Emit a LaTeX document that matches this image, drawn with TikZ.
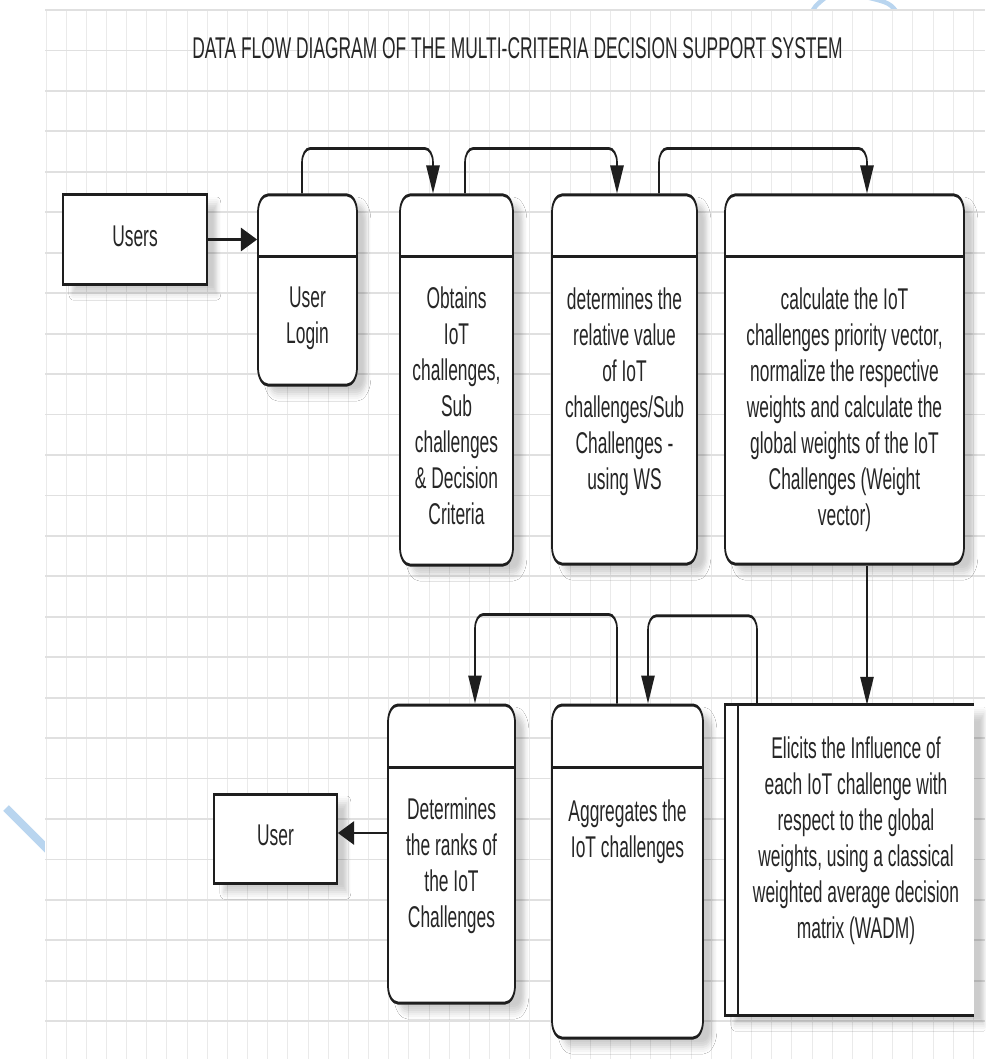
\documentclass[tikz,border=0pt]{standalone}
\usepackage{fontspec}
\setmainfont{Liberation Sans}
\usetikzlibrary{arrows.meta,calc,shadows.blur}

\definecolor{ink}{HTML}{1E1E1E}
\definecolor{txt}{HTML}{262626}
\definecolor{gridh}{HTML}{E0E0E0}
\definecolor{gridv}{HTML}{EAEAEA}
\definecolor{markblue}{HTML}{B9D5EF}

\newcommand{\dfdfont}{\fontsize{30}{36}\selectfont}

\tikzset{
  softshadow/.style={blur shadow={shadow xshift=17pt, shadow yshift=-9pt,
      shadow opacity=20, shadow blur radius=7pt}},
  procbox/.style 2 args={draw=ink, line width=3pt, fill=white, rounded corners=17pt,
      minimum width=#1*1.72414pt, minimum height=#2*1pt, inner sep=0pt, softshadow},
  entitybox/.style 2 args={draw=ink, line width=3pt, fill=white,
      minimum width=#1*1.72414pt, minimum height=#2*1pt, inner sep=0pt,
      font=\dfdfont, text=txt, text depth=6pt, softshadow},
  storebox/.style 2 args={fill=white, minimum width=#1*1.72414pt,
      minimum height=#2*1pt, inner sep=0pt, softshadow},
  storeline/.style={draw=ink, line width=3pt},
  proctext/.style={inner sep=0pt, anchor=north, align=center, font=\dfdfont, text=txt},
  divider/.style={draw=ink, line width=3pt},
  flow/.style={draw=ink, line width=2.8pt, rounded corners=14pt,
      -{Triangle[length=28pt,width=23pt]}},
}

\begin{document}
\begin{tikzpicture}[x=1pt,y=-1pt]
\useasboundingbox (0,0) rectangle (985,1059);

% faint blue pen strokes peeking out from under the sheet
\draw[markblue, line width=8pt] (6,808) -- (52,854);
\draw[markblue, line width=4.5pt] (811,14) .. controls (815,6) .. (826,-3);
\draw[markblue, line width=4.5pt] (866,-3) .. controls (890,3) .. (899,15);

% grid sheet
\fill[white] (45,10) rectangle (985,1059);
\foreach \k in {0,...,46}
  \draw[gridv, line width=1pt] ({46+20.16*\k},10) -- ({46+20.16*\k},1059);
\foreach \k in {0,...,25}
  \draw[gridh, line width=1.8pt] (45,{10+40.45*\k}) -- (985,{10+40.45*\k});

% diagram, drawn in a horizontally condensed canvas
\begin{scope}[x=1.72414pt, transform canvas={xscale=0.58}]

\node[inner sep=0pt, font=\dfdfont, text=txt] (title) at (517.5,48.5)
  {DATA FLOW DIAGRAM OF THE MULTI-CRITERIA DECISION SUPPORT SYSTEM};

% external entities
\node[entitybox={144}{89}] (users) at (135,239.5) {Users};
\node[entitybox={123}{89}] (user) at (275.5,838.5) {User};

% processes
\node[procbox={99}{190}]  (login)   at (307.5,290)   {};
\node[procbox={113}{370}] (obtains) at (456.5,380)   {};
\node[procbox={145}{369}] (relval)  at (624.5,379.5) {};
\node[procbox={239}{369}] (calcw)   at (844.5,379.5) {};
\node[procbox={127}{298}] (ranks)   at (451.5,854)   {};
\node[procbox={151}{333}] (aggr)    at (627.5,871.5) {};

\foreach \b/\d in {login/63, obtains/63, relval/63, calcw/63, ranks/64, aggr/64}
  \draw[divider] ($(\b.north west)+(0,\d)$) -- ($(\b.north east)+(0,\d)$);

% data store
\node[storebox={249}{310}] (elicits) at (849.5,860) {};
\draw[storeline] (elicits.north east) -- (elicits.north west)
  -- (elicits.south west) -- (elicits.south east);
\draw[storeline] ($(elicits.north west)+(13,0)$) -- ($(elicits.south west)+(13,0)$);

% process texts
\node[proctext] (loginT) at (307.5,287) {User\\Login};
\node[proctext] (obtainsT) at (456.5,287)
  {Obtains\\IoT\\challenges,\\Sub\\challenges\\\& Decision\\Criteria};
\node[proctext] (relvalT) at (624.5,288)
  {determines the\\relative value\\of IoT\\challenges/Sub\\Challenges -\\using WS};
\node[proctext] (calcwT) at (844.5,288)
  {calculate the IoT\\challenges priority vector,\\normalize the respective\\weights and calculate the\\global weights of the IoT\\Challenges (Weight\\vector)};
\node[proctext] (ranksT) at (451.5,798)
  {Determines\\the ranks of\\the IoT\\Challenges};
\node[proctext] (aggrT) at (627.5,800) {Aggregates the\\IoT challenges};
\node[proctext] (elicitsT) at (856,737)
  {Elicits the Influence of\\each IoT challenge with\\respect to the global\\weights, using a classical\\weighted average decision\\matrix (WADM)};

% data flows
\draw[flow] (users.east) -- (users.east -| login.west);
\draw[flow] ($(login.north)+(-5.5,0)$) -- ++(0,-45) -| ($(obtains.north)+(-23.5,0)$);
\draw[flow] ($(obtains.north)+(8.5,0)$) -- ++(0,-45) -| ($(relval.north)+(-7.5,0)$);
\draw[flow] ($(relval.north)+(34.5,0)$) -- ++(0,-45) -| ($(calcw.north)+(22.5,0)$);
\coordinate (cwout) at ($(calcw.south)+(22.5,0)$);
\draw[flow] (cwout) -- (cwout |- elicits.north);
\draw[flow] ($(elicits.north)+(-92.5,0)$) -- ++(0,-89) -| ($(aggr.north)+(20.5,0)$);
\draw[flow] ($(aggr.north)+(-10.5,0)$) -- ++(0,-89) -| ($(ranks.north)+(23.5,0)$);
\coordinate (rkout) at ($(ranks.west)+(0,-21)$);
\draw[flow] (rkout) -- (rkout -| user.east);

\end{scope}
\end{tikzpicture}
\end{document}
